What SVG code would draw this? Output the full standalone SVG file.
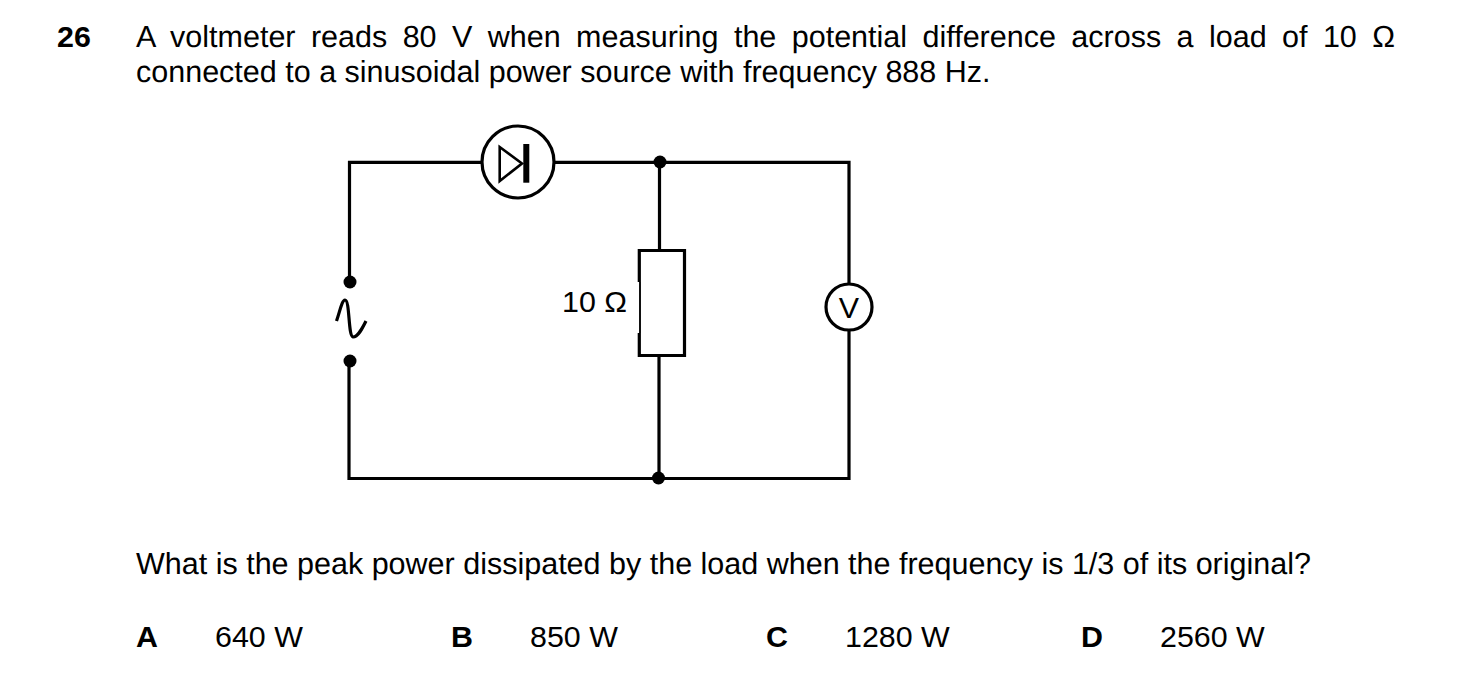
<svg xmlns="http://www.w3.org/2000/svg" width="1461" height="689" viewBox="0 0 1461 689">
<style>
text{font-family:"Liberation Sans",Arial,sans-serif;font-size:30.4px;fill:#000}
.l{font-size:30.5px;text-rendering:geometricPrecision}
.b{font-weight:bold}
.w{fill:none;stroke:#000;stroke-width:3.200}
.t{fill:none;stroke:#000;stroke-width:2.600}
.h{fill:none;stroke:#111;stroke-width:2}
.d{fill:#000;stroke:none}
</style>
<rect width="1461" height="689" fill="#fff"/>
<g id="question">
<text class="b" x="57" y="47">26</text>
<text class="l" x="136" y="47" word-spacing="6.950">A voltmeter reads 80 V when measuring the potential difference across a load of 10 Ω</text>
<text class="l" x="136" y="82">connected to a sinusoidal power source with frequency 888 Hz.</text>
<text class="l" x="136" y="574">What is the peak power dissipated by the load when the frequency is 1/3 of its original?</text>
</g>
<g id="connectors">
<path class="w" d="M349.500 282V162.300H482M554 162.300H849V284M849 330V478.500H349V361"/>
<path class="w" d="M659.500 162V250M659 356V478"/>
</g>
<g id="diode">
<circle class="w" cx="518" cy="162" r="36"/>
<path class="t" d="M499.700 147V181L522 163.500Z"/>
<rect class="d" x="523.300" y="144" width="6" height="38.700"/>
</g>
<g id="source">
<circle class="d" cx="350" cy="282" r="6.500"/>
<circle class="d" cx="350" cy="361" r="6.500"/>
<path class="w" d="M336.500 321C340 311 342 300 345 300C350 300 348 336 353 337C358 337 362 329 366 321"/>
</g>
<g id="junctions">
<circle class="d" cx="660" cy="162" r="6.500"/>
<circle class="d" cx="658.500" cy="478" r="6.500"/>
</g>
<g id="resistor">
<path class="w" d="M639.300 282V250.500H684.500V355.500H639.300V333"/>
<path class="h" d="M640 282V333"/>
<text x="562" y="312">10 Ω</text>
</g>
<g id="voltmeter">
<circle class="w" cx="849" cy="307" r="23" fill="#fff"/>
<text x="849" y="318" text-anchor="middle">V</text>
</g>
<g id="options">
<text class="b" x="136" y="647">A</text>
<text x="215" y="647">640 W</text>
<text class="b" x="451" y="647">B</text>
<text x="530" y="647">850 W</text>
<text class="b" x="766" y="647">C</text>
<text x="845" y="647">1280 W</text>
<text class="b" x="1081" y="647">D</text>
<text x="1160" y="647">2560 W</text>
</g>
</svg>
